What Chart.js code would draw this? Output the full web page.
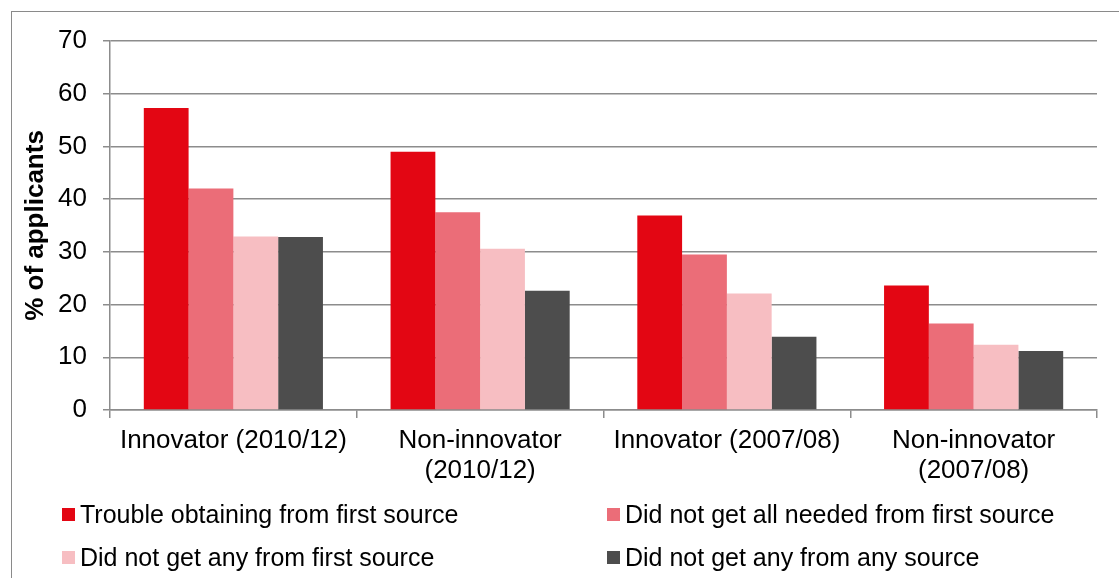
<!DOCTYPE html>
<html>
<head>
<meta charset="utf-8">
<script src="https://cdn.jsdelivr.net/npm/chart.js@4"></script>
<style>
    body { margin: 0; background: #fff; }
    #wrap { position: relative; width: 1119px; height: 578px; overflow: hidden; font-family: 'Liberation Sans', Arial, sans-serif; }
    #frame { position: absolute; left: 11px; top: 11px; width: 1200px; height: 700px; border: 1.5px solid #8a8a8a; }
    #chartCanvas { position: absolute; left: 0; top: 0; }
    .legendItem { position: absolute; display: flex; align-items: center; font-size: 25px; color: #000; white-space: nowrap; }
    .legendBox { width: 13px; height: 13px; margin-right: 5px; }
</style>
</head>
<body>
<div id="wrap">
    <div id="frame"></div>
    <canvas id="chartCanvas" width="1119" height="578"></canvas>
</div>
<script>
const categories = [
    ['Innovator (2010/12)'],
    ['Non-innovator', '(2010/12)'],
    ['Innovator (2007/08)'],
    ['Non-innovator', '(2007/08)']
];

const seriesNames = [
    'Trouble obtaining from first source',
    'Did not get all needed from first source',
    'Did not get any from first source',
    'Did not get any from any source'
];

const troubleFirst = [57.3, 49.0, 36.9, 23.6];
const notAllFirst = [42.0, 37.5, 29.5, 16.4];
const notAnyFirst = [32.9, 30.6, 22.1, 12.4];
const notAnyAny = [32.8, 22.6, 13.9, 11.2];

const seriesValues = [troubleFirst, notAllFirst, notAnyFirst, notAnyAny];
const seriesColors = ['#E30613', '#EB6D78', '#F7BEC2', '#4D4D4D'];

// legend spots (two columns, two rows)
const legendSpots = [
    { left: 62, top: 514 },
    { left: 607, top: 514 },
    { left: 62, top: 557 },
    { left: 607, top: 557 }
];

const gridColor = '#8c8c8c';

function initChart() {
    var ctx = document.getElementById('chartCanvas');

    var dataSets = [];
    for (let i = 0; i < seriesNames.length; i++) {
        dataSets.push({
            label: seriesNames[i],
            data: seriesValues[i],
            backgroundColor: seriesColors[i],
            borderWidth: 0,
            categoryPercentage: 0.726,
            barPercentage: 1.0
        });
    }

    new Chart(ctx, {
        type: 'bar',
        data: {
            labels: categories,
            datasets: dataSets
        },
        options: {
            responsive: false,
            animation: false,
            devicePixelRatio: 1,
            layout: {
                padding: { left: 0, top: 41, right: 22, bottom: 0 }
            },
            scales: {
                y: {
                    min: 0,
                    max: 70,
                    afterFit: function (scale) { scale.width = 110; },
                    ticks: {
                        stepSize: 10,
                        padding: 16,
                        color: '#000',
                        font: { family: 'Liberation Sans', size: 26 }
                    },
                    grid: {
                        color: gridColor,
                        lineWidth: 1.5,
                        tickLength: 7
                    },
                    border: { display: true, color: gridColor, width: 1.5 },
                    title: {
                        display: true,
                        text: '% of applicants',
                        color: '#000',
                        padding: { top: 20, bottom: 0 },
                        font: { family: 'Liberation Sans', size: 26, weight: 'bold' }
                    }
                },
                x: {
                    afterFit: function (scale) { scale.height = 168; },
                    ticks: {
                        padding: 8,
                        color: '#000',
                        maxRotation: 0,
                        autoSkip: false,
                        font: { family: 'Liberation Sans', size: 26, lineHeight: 1.15 }
                    },
                    grid: {
                        offset: true,
                        drawOnChartArea: false,
                        color: gridColor,
                        lineWidth: 1.5,
                        tickLength: 8
                    },
                    border: { display: true, color: gridColor, width: 1.5 }
                }
            },
            plugins: {
                legend: { display: false },
                tooltip: { enabled: false }
            }
        }
    });

    //Build the legend from the series lists.
    var wrap = document.getElementById('wrap');
    for (let i = 0; i < seriesNames.length; i++) {
        var item = document.createElement('div');
        item.className = 'legendItem';
        item.style.left = legendSpots[i].left + 'px';
        item.style.top = (legendSpots[i].top - 15) + 'px';
        item.style.height = '30px';

        var box = document.createElement('span');
        box.className = 'legendBox';
        box.style.background = seriesColors[i];

        var text = document.createElement('span');
        text.textContent = seriesNames[i];

        item.appendChild(box);
        item.appendChild(text);
        wrap.appendChild(item);
    }
}

initChart();
</script>
</body>
</html>
